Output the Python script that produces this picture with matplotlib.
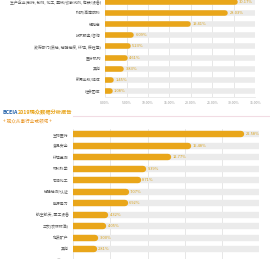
import matplotlib
matplotlib.use("Agg")
from matplotlib import pyplot as plt
from matplotlib.lines import Line2D

plt.rcParams['font.family'] = ['Noto Sans CJK SC', 'DejaVu Sans']

# upper chart: visitor organisation type
top_labels = ["生产企业(制药, 制剂, 化工, 器械/诊断试剂, 包装/设备)", "科研/高等院校", "经销商",
              "技术服务/咨询", "政府部门(质检, 检验检疫, 环境, 疾控等)", "医疗机构", "其他",
              "新闻出版/媒体", "社会团体"]
top_values = [30.17, 28.03, 19.41, 6.09, 5.23, 4.61, 3.83, 1.45, 1.08]
top_ticks = [0, 5, 10, 15, 20, 25, 30, 35]

# lower chart: visitor industry / field
bot_labels = ["生物医药", "食品安全", "环境监测", "材料科学", "石油化工", "检验检测/认证",
              "能源电力", "航空航天, 军工设备", "三农(农林牧渔)", "地质矿产", "其他", "电子电器"]
bot_values = [22.58, 15.48, 12.77, 9.39, 8.71, 7.07, 6.92, 4.32, 4.05, 3.00, 2.81, 1.25]
bot_ticks = [0, 5, 10, 15, 20, 25]

BAR = '#E9A61A'
TRACK = '#EBEBEB'
VAL = '#D9A21C'
TXT = '#555555'


def draw(ax, labels, values, ticks, lw, show_ticks):
    top = ticks[-1]
    n = len(values)
    for i in range(n):
        ax.plot([0, top], [i, i], color=TRACK, lw=lw, solid_capstyle='round', zorder=2)
        ax.plot([0, values[i]], [i, i], color=BAR, lw=lw, solid_capstyle='round', zorder=3)
        ax.annotate("%.2f%%" % values[i], (values[i], i), xytext=(3.2, 0),
                    textcoords='offset points', va='center', ha='left',
                    fontsize=2.9, color=VAL)
    ax.set_xlim(0, top)
    ax.set_ylim(n - 0.5, -0.5)
    ax.set_yticks(range(n))
    ax.set_yticklabels(labels, fontsize=2.8, color=TXT)
    ax.set_xticks(ticks)
    if show_ticks:
        ax.set_xticklabels(["%.2f%%" % t for t in ticks], fontsize=2.5, color='#999999')
    else:
        ax.set_xticklabels([])
    ax.tick_params(length=0, pad=3)
    ax.grid(axis='x', color='#DDDDDD', lw=0.5, zorder=0)
    for s in ['top', 'right', 'left']:
        ax.spines[s].set_visible(False)
    ax.spines['bottom'].set_color('#E3E3E3')
    ax.spines['bottom'].set_linewidth(0.5)


fig = plt.figure(figsize=(2.7, 2.59), dpi=100)

ax1 = fig.add_axes([0.389, 0.627, 0.557, 0.387])
draw(ax1, top_labels, top_values, top_ticks, 4.0, True)

ax2 = fig.add_axes([0.270, -0.028, 0.691, 0.531])
draw(ax2, bot_labels, bot_values, bot_ticks, 4.6, False)

# section header
t1 = fig.text(0.008, 1 - 113 / 259, "BCEIA", color='#1F5FA8', fontsize=3.8,
              fontweight='bold', va='center')
plt.annotate("2019观众数据分析报告", xy=(1, 0.5), xycoords=t1, color='#E8A317',
             fontsize=3.8, fontweight='bold', va='center', ha='left')
fig.text(0.011, 1 - 121 / 259, "+ 观众从事行业或领域 +", color='#E8921F', fontsize=3.3,
         va='center')
fig.add_artist(Line2D([0.27, 1.0], [1 - 116 / 259] * 2, color='#F2DCE4', lw=0.8))

fig.savefig("out.png", dpi=100, facecolor='white')
